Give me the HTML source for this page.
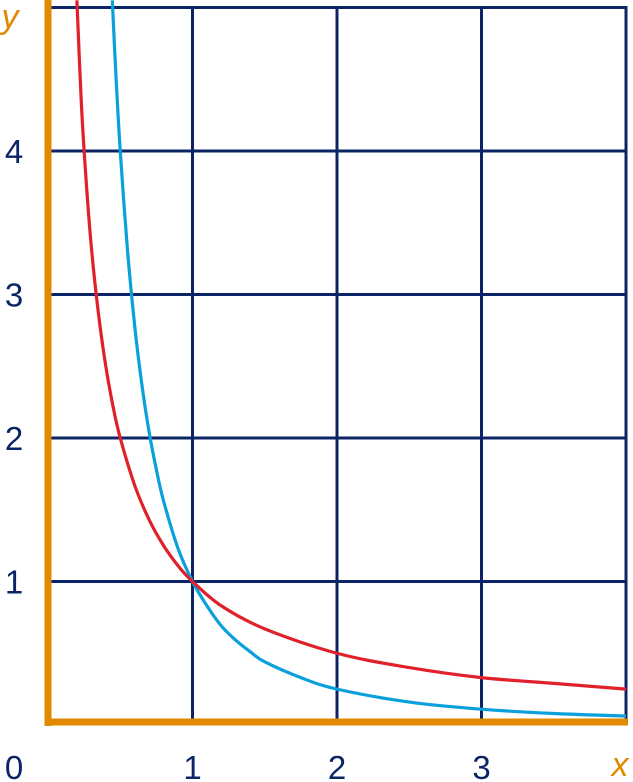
<!DOCTYPE html>
<html><head><meta charset="utf-8"><style>
html,body{margin:0;padding:0;background:#fff;}
svg{display:block;}
text{font-family:"Liberation Sans",sans-serif;}
</style></head><body>
<svg id="chart" width="633" height="782" viewBox="0 0 633 782" xmlns="http://www.w3.org/2000/svg">
<g id="grid"></g>
<g id="series"></g>
<g id="axes"></g>
<g id="labels"></g>
</svg>
<script>
const xTicks = [1, 2, 3, 4];
const yTicks = [1, 2, 3, 4, 5];
const xTickLabels = ["0", "1", "2", "3"];
const yTickLabels = ["1", "2", "3", "4"];
const redX = [0.2, 0.23, 0.26, 0.3, 0.35, 0.4, 0.45, 0.5, 0.6, 0.7, 0.8, 0.9, 1, 1.2, 1.5, 2, 2.5, 3, 3.5, 4];
const redY = [5.05, 4.35, 3.85, 3.33, 2.86, 2.5, 2.22, 2, 1.67, 1.43, 1.25, 1.11, 1, 0.83, 0.67, 0.5, 0.4, 0.33, 0.29, 0.25];
const blueX = [0.445, 0.47, 0.5, 0.55, 0.6, 0.65, 0.7, 0.75, 0.8, 0.9, 1, 1.1, 1.2, 1.3, 1.4, 1.5, 1.75, 2, 2.5, 3, 3.5, 4];
const blueY = [5.05, 4.53, 4, 3.31, 2.78, 2.37, 2.04, 1.78, 1.56, 1.23, 1, 0.83, 0.69, 0.59, 0.51, 0.44, 0.33, 0.25, 0.16, 0.11, 0.08, 0.0625];

const X0 = 48, XS = 144.5, Y0 = 725, YS = 143.5;
const sx = v => X0 + v * XS;
const sy = v => Y0 - v * YS;
const NS = "http://www.w3.org/2000/svg";
function mk(tag, attrs, parent) {
  const e = document.createElementNS(NS, tag);
  for (const k in attrs) e.setAttribute(k, attrs[k]);
  parent.appendChild(e);
  return e;
}
const grid = document.getElementById('grid');
const navy = "#0b2466";
xTicks.forEach(t => {
  const l = mk('line', {x1: sx(t), x2: sx(t), y1: sy(5) - 1.5, y2: 722, stroke: navy, 'stroke-width': 3}, grid);
  
  
});
yTicks.forEach(t => {
  const l = mk('line', {x1: X0, x2: sx(4) + 1.5, y1: sy(t), y2: sy(t), stroke: navy, 'stroke-width': 3}, grid);
  
  
});
function smoothPath(xs, ys) {
  const p = xs.map((x, i) => [sx(x), sy(ys[i])]);
  let d = `M${p[0][0]},${p[0][1]}`;
  for (let i = 0; i < p.length - 1; i++) {
    const a = p[i - 1] || p[i], b = p[i], c = p[i + 1], e = p[i + 2] || c;
    const c1 = [b[0] + (c[0] - a[0]) / 6, b[1] + (c[1] - a[1]) / 6];
    const c2 = [c[0] - (e[0] - b[0]) / 6, c[1] - (e[1] - b[1]) / 6];
    d += ` C${c1[0]},${c1[1]} ${c2[0]},${c2[1]} ${c[0]},${c[1]}`;
  }
  return d;
}
const series = document.getElementById('series');
const blue = mk('path', {d: smoothPath(blueX, blueY), fill: 'none', stroke: '#0aa0dc', 'stroke-width': 3.2}, series);


const red = mk('path', {d: smoothPath(redX, redY), fill: 'none', stroke: '#e0202a', 'stroke-width': 3.2}, series);



const axes = document.getElementById('axes');
const orange = "#e08a00";
const ya = mk('line', {x1: X0, x2: X0, y1: 0, y2: 726, stroke: orange, 'stroke-width': 7}, axes);


const xa = mk('line', {x1: X0 - 3, x2: 628, y1: 722, y2: 722, stroke: orange, 'stroke-width': 7}, axes);



const labels = document.getElementById('labels');
xTickLabels.forEach((s, i) => {
  const t = mk('text', {x: i === 0 ? 14 : sx(i), y: 779, 'font-size': 33, fill: navy, 'text-anchor': 'middle'}, labels);
  t.textContent = s;
  
  
});
yTickLabels.forEach((s, i) => {
  const t = mk('text', {x: 14, y: sy(i + 1) + 12, 'font-size': 33, fill: navy, 'text-anchor': 'middle'}, labels);
  t.textContent = s;
  
  
});
const yt = mk('text', {x: 10, y: 28, 'font-size': 34, 'font-style': 'italic', fill: orange, 'text-anchor': 'middle'}, labels);
yt.textContent = 'y';


const xt = mk('text', {x: 620, y: 776, 'font-size': 34, 'font-style': 'italic', fill: orange, 'text-anchor': 'middle'}, labels);
xt.textContent = 'x';


</script>
</body></html>
